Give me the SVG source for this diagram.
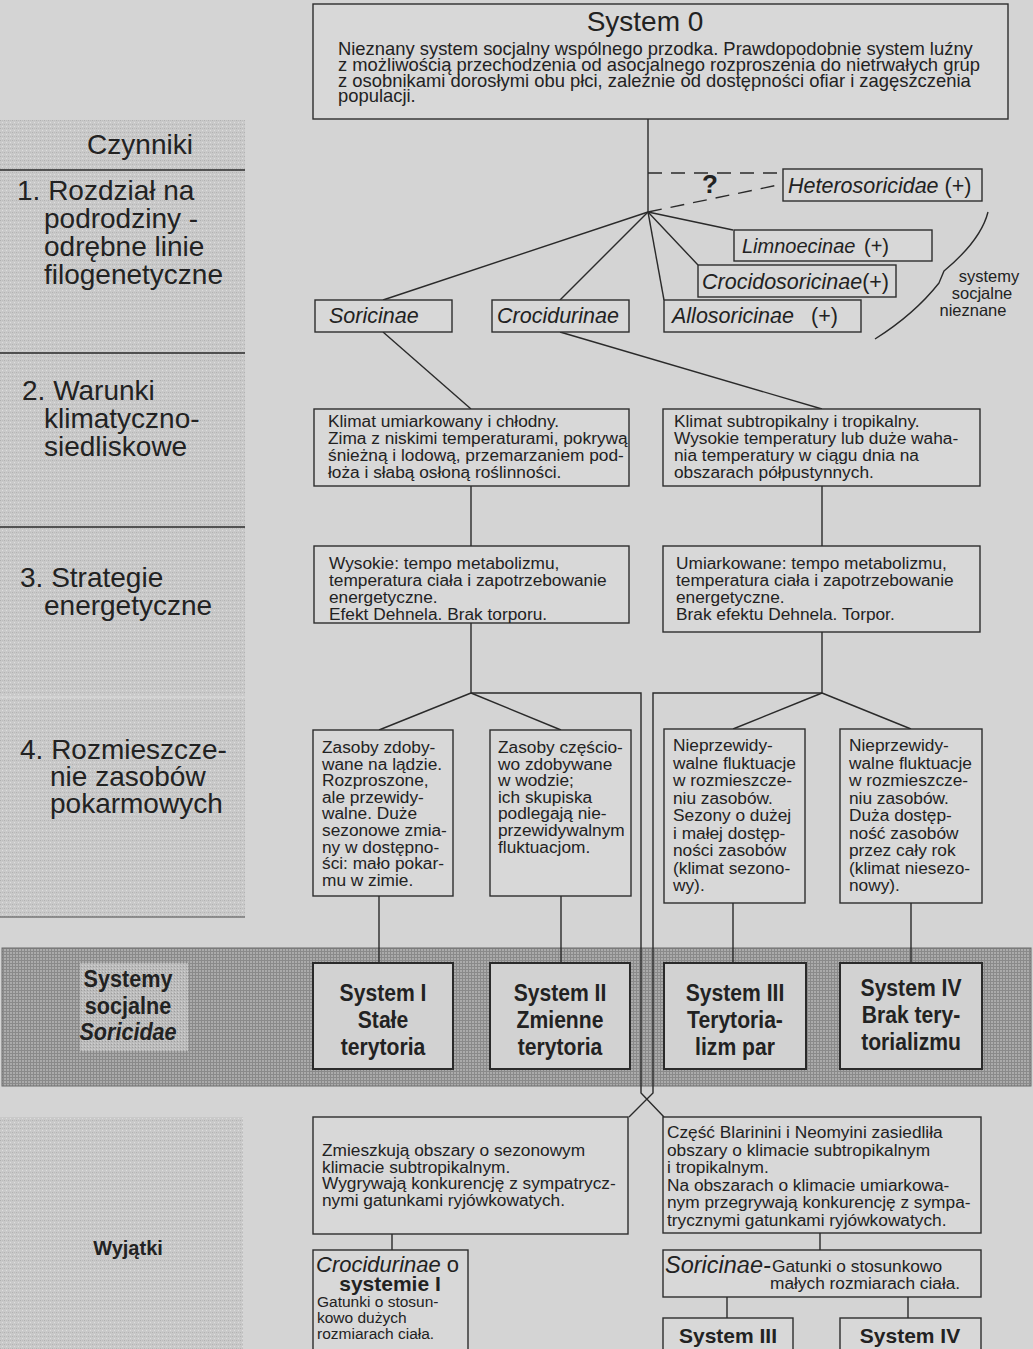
<svg xmlns="http://www.w3.org/2000/svg" width="1033" height="1349" viewBox="0 0 1033 1349">
  <defs>
    <!-- light stipple for the factor column and the exceptions label -->
    <pattern id="stipLight" width="4" height="4" patternUnits="userSpaceOnUse">
      <rect width="4" height="4" fill="#c9c9c9"/>
      <rect x="0" y="0" width="1" height="1" fill="#b2b2b2"/>
      <rect x="2" y="2" width="1" height="1" fill="#dedede"/>
      <rect x="2" y="0" width="1" height="1" fill="#bdbdbd"/>
    </pattern>
    <!-- dense grid stipple for the social-systems band -->
    <pattern id="stipDark" width="3" height="3" patternUnits="userSpaceOnUse">
      <rect width="3" height="3" fill="#ababab"/>
      <rect width="3" height="1" fill="#8a8a8a"/>
      <rect width="1" height="3" fill="#8a8a8a"/>
    </pattern>
    <pattern id="stipMid" width="3" height="3" patternUnits="userSpaceOnUse">
      <rect width="3" height="3" fill="#bcbcbc"/>
      <rect width="1" height="1" fill="#9c9c9c"/>
      <rect x="1" y="2" width="1" height="1" fill="#d0d0d0"/>
    </pattern>
    <style>
      .box { fill: #d8d8d8; stroke: #2e2e2e; stroke-width: 1.4; }
      .sbox { fill: #d2d2d2; stroke: #2a2a2a; stroke-width: 2; }
      .ln { stroke: #2a2a2a; stroke-width: 1.4; fill: none; }
      .dash { stroke-dasharray: 14 9; }
      text { font-family: "Liberation Sans", Arial, sans-serif; fill: #222; }
      .body { font-size: 17.3px; }
      .lab { font-size: 28px; }
      .it { font-style: italic; font-size: 21.5px; }
      .sys { font-weight: bold; font-size: 24px; }
      .bsm { font-weight: bold; font-size: 21px; }
    </style>
  </defs>

  <!-- page -->
  <rect width="1033" height="1349" fill="#d4d4d4"/>

  <!-- factor column -->
  <g id="factors">
    <rect x="0" y="120" width="245" height="798" fill="url(#stipLight)"/>
    <line x1="0" y1="170" x2="245" y2="170" class="ln"/>
    <line x1="0" y1="353" x2="245" y2="353" class="ln"/>
    <line x1="0" y1="527" x2="245" y2="527" class="ln"/>
    <line x1="0" y1="697" x2="245" y2="697" stroke="#e2e2e2" stroke-width="1.2"/>
    <line x1="0" y1="917" x2="245" y2="917" stroke="#555" stroke-width="1.2"/>
    <text class="lab" x="140" y="154" text-anchor="middle" font-size="26">Czynniki</text>
    <text class="lab"><tspan x="17" y="200">1. Rozdział na</tspan><tspan x="44" y="228">podrodziny -</tspan><tspan x="44" y="256">odrębne linie</tspan><tspan x="44" y="284">filogenetyczne</tspan></text>
    <text class="lab"><tspan x="22" y="400">2. Warunki</tspan><tspan x="44" y="428">klimatyczno-</tspan><tspan x="44" y="456">siedliskowe</tspan></text>
    <text class="lab"><tspan x="20" y="587">3. Strategie</tspan><tspan x="44" y="615">energetyczne</tspan></text>
    <text class="lab"><tspan x="20" y="759">4. Rozmieszcze-</tspan><tspan x="50" y="786">nie zasobów</tspan><tspan x="50" y="813">pokarmowych</tspan></text>
  </g>

  <!-- social systems band -->
  <g id="band">
    <rect x="2" y="948" width="1029" height="138" fill="url(#stipDark)" stroke="#6a6a6a" stroke-width="1"/>
    <rect x="80" y="963" width="108" height="88" fill="url(#stipMid)"/>
    <text class="sys" transform="translate(128,0) scale(0.9,1)" text-anchor="middle"><tspan x="0" y="987">Systemy</tspan><tspan x="0" y="1014">socjalne</tspan><tspan x="0" y="1040" font-style="italic">Soricidae</tspan></text>
  </g>

  <!-- exceptions label -->
  <g id="exceptions-label">
    <rect x="0" y="1117" width="243" height="232" fill="url(#stipLight)"/>
    <text x="128" y="1255" text-anchor="middle" font-weight="bold" font-size="20">Wyjątki</text>
  </g>

  <!-- connectors -->
  <g id="connectors" class="ln">
    <line x1="648" y1="119" x2="648" y2="212"/>
    <line x1="648" y1="212" x2="383" y2="300"/>
    <line x1="648" y1="212" x2="560" y2="300"/>
    <line x1="648" y1="212" x2="664" y2="300"/>
    <line x1="648" y1="212" x2="698" y2="265"/>
    <line x1="648" y1="212" x2="733" y2="230"/>
    <line x1="648" y1="173" x2="783" y2="173" class="dash"/>
    <line x1="648" y1="212" x2="783" y2="184" class="dash"/>
    <path d="M988,212 C982,236 962,256 944,271 L939,283 C924,302 902,322 875,339"/>
    <line x1="383" y1="332" x2="471" y2="409"/>
    <line x1="560" y1="332" x2="822" y2="409"/>
    <line x1="471" y1="486" x2="471" y2="546"/>
    <line x1="822" y1="486" x2="822" y2="546"/>
    <line x1="471" y1="623" x2="471" y2="693"/>
    <line x1="822" y1="632" x2="822" y2="693"/>
    <line x1="471" y1="693" x2="379" y2="730"/>
    <line x1="471" y1="693" x2="561" y2="730"/>
    <line x1="822" y1="693" x2="733" y2="729"/>
    <line x1="822" y1="693" x2="911" y2="729"/>
    <polyline points="471,693 641,693 641,1093 664,1117"/>
    <polyline points="822,693 653,693 653,1093 629,1117"/>
    <line x1="379" y1="896" x2="379" y2="963"/>
    <line x1="561" y1="896" x2="561" y2="963"/>
    <line x1="733" y1="903" x2="733" y2="963"/>
    <line x1="911" y1="903" x2="911" y2="963"/>
    <line x1="392" y1="1234" x2="392" y2="1250"/>
    <line x1="820" y1="1233" x2="820" y2="1250"/>
    <line x1="727" y1="1297" x2="727" y2="1318"/>
    <line x1="908" y1="1297" x2="908" y2="1318"/>
  </g>

  <!-- ancestor -->
  <g id="system0">
    <rect class="box" x="313" y="4" width="695" height="115"/>
    <text x="645" y="31" text-anchor="middle" font-size="28">System 0</text>
    <text font-size="18.4"><tspan x="338" y="55">Nieznany system socjalny wspólnego przodka. Prawdopodobnie system luźny</tspan><tspan x="338" y="70.8">z możliwością przechodzenia od asocjalnego rozproszenia do nietrwałych grup</tspan><tspan x="338" y="86.6">z osobnikami dorosłymi obu płci, zależnie od dostępności ofiar  i zagęszczenia</tspan><tspan x="338" y="102.4">populacji.</tspan></text>
  </g>

  <!-- subfamilies -->
  <g id="heterosoricidae">
    <rect class="box" x="783" y="169" width="199" height="32"/>
    <text x="788" y="193" font-size="21.5"><tspan font-style="italic">Heterosoricidae</tspan> (+)</text>
  </g>
  <text id="question" x="710" y="193" text-anchor="middle" font-weight="bold" font-size="26">?</text>
  <g id="limnoecinae">
    <rect class="box" x="734" y="230" width="198" height="31"/>
    <text x="742" y="253" font-size="20"><tspan font-style="italic">Limnoecinae</tspan><tspan x="864">(+)</tspan></text>
  </g>
  <g id="crocidosoricinae">
    <rect class="box" x="698" y="265" width="198" height="32"/>
    <text x="702" y="289" font-size="21.5"><tspan font-style="italic">Crocidosoricinae</tspan>(+)</text>
  </g>
  <g id="allosoricinae">
    <rect class="box" x="664" y="300" width="197" height="32"/>
    <text x="672" y="323" font-size="21.5"><tspan font-style="italic">Allosoricinae</tspan><tspan x="811">(+)</tspan></text>
  </g>
  <g id="unknown-note">
    <text text-anchor="middle" font-size="16.5"><tspan x="989" y="282">systemy</tspan><tspan x="982" y="299">socjalne</tspan><tspan x="973" y="316">nieznane</tspan></text>
  </g>
  <g id="soricinae">
    <rect class="box" x="315" y="300" width="137" height="32"/>
    <text class="it" x="329" y="323">Soricinae</text>
  </g>
  <g id="crocidurinae">
    <rect class="box" x="492" y="300" width="137" height="32"/>
    <text class="it" x="497" y="323">Crocidurinae</text>
  </g>

  <!-- climate -->
  <g id="climate-temperate">
    <rect class="box" x="314" y="409" width="315" height="77"/>
    <text class="body"><tspan x="328" y="427">Klimat umiarkowany i chłodny.</tspan><tspan x="328" y="444">Zima z niskimi temperaturami, pokrywą</tspan><tspan x="328" y="461">śnieżną i lodową, przemarzaniem pod-</tspan><tspan x="328" y="478">łoża i słabą osłoną roślinności.</tspan></text>
  </g>
  <g id="climate-tropical">
    <rect class="box" x="663" y="409" width="317" height="77"/>
    <text class="body"><tspan x="674" y="427">Klimat subtropikalny i tropikalny.</tspan><tspan x="674" y="444">Wysokie temperatury lub duże waha-</tspan><tspan x="674" y="461">nia temperatury w ciągu dnia na</tspan><tspan x="674" y="478">obszarach półpustynnych.</tspan></text>
  </g>

  <!-- energy strategies -->
  <g id="energy-high">
    <rect class="box" x="314" y="546" width="315" height="77"/>
    <text class="body"><tspan x="329" y="569">Wysokie: tempo metabolizmu,</tspan><tspan x="329" y="586">temperatura ciała i zapotrzebowanie</tspan><tspan x="329" y="603">energetyczne.</tspan><tspan x="329" y="620">Efekt Dehnela. Brak torporu.</tspan></text>
  </g>
  <g id="energy-moderate">
    <rect class="box" x="663" y="546" width="317" height="86"/>
    <text class="body"><tspan x="676" y="569">Umiarkowane: tempo metabolizmu,</tspan><tspan x="676" y="586">temperatura ciała i zapotrzebowanie</tspan><tspan x="676" y="603">energetyczne.</tspan><tspan x="676" y="620">Brak efektu Dehnela. Torpor.</tspan></text>
  </g>

  <!-- food resources -->
  <g id="food-land">
    <rect class="box" x="313" y="730" width="140" height="166"/>
    <text class="body"><tspan x="322" y="753">Zasoby zdoby-</tspan><tspan x="322" y="769.6">wane na lądzie.</tspan><tspan x="322" y="786.2">Rozproszone,</tspan><tspan x="322" y="802.8">ale przewidy-</tspan><tspan x="322" y="819.4">walne. Duże</tspan><tspan x="322" y="836">sezonowe zmia-</tspan><tspan x="322" y="852.6">ny w dostępno-</tspan><tspan x="322" y="869.2">ści: mało pokar-</tspan><tspan x="322" y="885.8">mu w zimie.</tspan></text>
  </g>
  <g id="food-water">
    <rect class="box" x="490" y="730" width="141" height="166"/>
    <text class="body"><tspan x="498" y="753">Zasoby częścio-</tspan><tspan x="498" y="769.6">wo zdobywane</tspan><tspan x="498" y="786.2">w wodzie;</tspan><tspan x="498" y="802.8">ich skupiska</tspan><tspan x="498" y="819.4">podlegają nie-</tspan><tspan x="498" y="836">przewidywalnym</tspan><tspan x="498" y="852.6">fluktuacjom.</tspan></text>
  </g>
  <g id="food-seasonal">
    <rect class="box" x="664" y="729" width="141" height="174"/>
    <text class="body"><tspan x="673" y="751">Nieprzewidy-</tspan><tspan x="673" y="768.5">walne fluktuacje</tspan><tspan x="673" y="786">w rozmieszcze-</tspan><tspan x="673" y="803.5">niu zasobów.</tspan><tspan x="673" y="821">Sezony o dużej</tspan><tspan x="673" y="838.5">i małej dostęp-</tspan><tspan x="673" y="856">ności zasobów</tspan><tspan x="673" y="873.5">(klimat sezono-</tspan><tspan x="673" y="891">wy).</tspan></text>
  </g>
  <g id="food-nonseasonal">
    <rect class="box" x="840" y="729" width="142" height="174"/>
    <text class="body"><tspan x="849" y="751">Nieprzewidy-</tspan><tspan x="849" y="768.5">walne fluktuacje</tspan><tspan x="849" y="786">w rozmieszcze-</tspan><tspan x="849" y="803.5">niu zasobów.</tspan><tspan x="849" y="821">Duża dostęp-</tspan><tspan x="849" y="838.5">ność zasobów</tspan><tspan x="849" y="856">przez cały rok</tspan><tspan x="849" y="873.5">(klimat niesezo-</tspan><tspan x="849" y="891">nowy).</tspan></text>
  </g>

  <!-- social systems -->
  <g id="system1">
    <rect class="sbox" x="313" y="963" width="140" height="106"/>
    <text class="sys" transform="translate(383,0) scale(0.88,1)" text-anchor="middle"><tspan x="0" y="1001">System I</tspan><tspan x="0" y="1028">Stałe</tspan><tspan x="0" y="1055">terytoria</tspan></text>
  </g>
  <g id="system2">
    <rect class="sbox" x="490" y="963" width="140" height="106"/>
    <text class="sys" transform="translate(560,0) scale(0.88,1)" text-anchor="middle"><tspan x="0" y="1001">System II</tspan><tspan x="0" y="1028">Zmienne</tspan><tspan x="0" y="1055">terytoria</tspan></text>
  </g>
  <g id="system3">
    <rect class="sbox" x="664" y="963" width="142" height="106"/>
    <text class="sys" transform="translate(735,0) scale(0.88,1)" text-anchor="middle"><tspan x="0" y="1001">System III</tspan><tspan x="0" y="1028">Terytoria-</tspan><tspan x="0" y="1055">lizm par</tspan></text>
  </g>
  <g id="system4">
    <rect class="sbox" x="840" y="963" width="142" height="106"/>
    <text class="sys" transform="translate(911,0) scale(0.88,1)" text-anchor="middle"><tspan x="0" y="996">System IV</tspan><tspan x="0" y="1023">Brak tery-</tspan><tspan x="0" y="1050">torializmu</tspan></text>
  </g>

  <!-- exceptions -->
  <g id="exc-crocidurinae">
    <rect class="box" x="313" y="1117" width="315" height="117"/>
    <text class="body"><tspan x="322" y="1156">Zmieszkują obszary o sezonowym</tspan><tspan x="322" y="1172.5">klimacie subtropikalnym.</tspan><tspan x="322" y="1189">Wygrywają konkurencję z sympatrycz-</tspan><tspan x="322" y="1205.5">nymi gatunkami ryjówkowatych.</tspan></text>
  </g>
  <g id="exc-crocidurinae-system1">
    <rect class="box" x="313" y="1250" width="155" height="104"/>
    <text x="316" y="1272" font-size="22"><tspan font-style="italic">Crocidurinae</tspan> o</text>
    <text x="390" y="1291" text-anchor="middle" font-size="21" font-weight="bold">systemie I</text>
    <text font-size="15.5"><tspan x="317" y="1307">Gatunki o stosun-</tspan><tspan x="317" y="1323">kowo dużych</tspan><tspan x="317" y="1339">rozmiarach ciała.</tspan></text>
  </g>
  <g id="exc-soricinae">
    <rect class="box" x="663" y="1117" width="318" height="116"/>
    <text class="body"><tspan x="667" y="1138">Część Blarinini i Neomyini zasiedliła</tspan><tspan x="667" y="1155.5">obszary o klimacie subtropikalnym</tspan><tspan x="667" y="1173">i tropikalnym.</tspan><tspan x="667" y="1190.5">Na obszarach o klimacie umiarkowa-</tspan><tspan x="667" y="1208">nym przegrywają konkurencję z sympa-</tspan><tspan x="667" y="1225.5">trycznymi gatunkami ryjówkowatych.</tspan></text>
  </g>
  <g id="exc-soricinae-small">
    <rect class="box" x="663" y="1250" width="318" height="47"/>
    <text x="665" y="1273" font-size="23.5" font-style="italic">Soricinae-</text>
    <text class="body"><tspan x="772" y="1272">Gatunki o stosunkowo</tspan><tspan x="770" y="1289">małych rozmiarach ciała.</tspan></text>
  </g>
  <g id="exc-system3">
    <rect class="box" x="663" y="1318" width="130" height="36"/>
    <text class="bsm" x="728" y="1343" text-anchor="middle">System III</text>
  </g>
  <g id="exc-system4">
    <rect class="box" x="840" y="1318" width="141" height="36"/>
    <text class="bsm" x="910" y="1343" text-anchor="middle">System IV</text>
  </g>
</svg>
